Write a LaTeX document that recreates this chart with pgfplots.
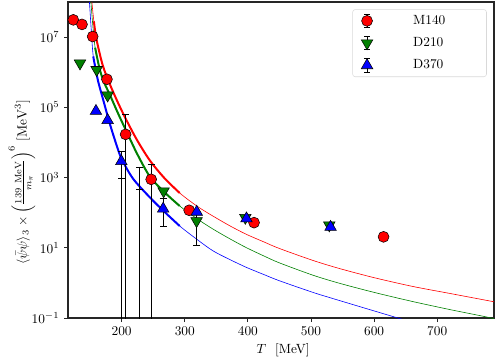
\documentclass[border=0pt]{standalone}
\usepackage{pgfplots}
\pgfplotsset{compat=1.18}
\usepackage{pgfplotstable}
\usetikzlibrary{calc}
\definecolor{mred}{RGB}{255,0,0}
\definecolor{mgreen}{RGB}{0,128,0}
\definecolor{mblue}{RGB}{0,0,255}

% data points: T, value, error plus, error minus
\pgfplotstableread{
T     y       ep      em
123.4 3.1e7   0       0
137.2 2.3e7   0       0
154.1 1.04e7  0       0
176.7 6.3e5   0       0
206.3 1.7e4   4.5e4   16999.999
246.8 890     1450    889.999
307   117     0       0
409.8 52      0       0
615   20.5    0       0
}\mred
\pgfplotstableread{
T     y       ep      em
134   1.8e6   0       0
160.4 1.17e6  0       0
177.8 2.2e5   0       0
266.5 410     0       0
318.7 58      47      46.3
396   72      0       0
529   44      0       0
}\dgreen
\pgfplotstableread{
T     y       ep      em
159.3 7.8e4   0       0
177.8 4.3e4   0       0
199.5 2900    2500    1970
265.8 129     122     89
319   105     0       0
397.8 68      0       0
531   39      0       0
}\dblue
% error bars whose markers are not shown: top of bar, length down
\pgfplotstableread{
T     y       em
228.5 2000    1999.999
199.5 930     929.999
}\dextra
\pgfplotstableread{
T     y
228.5 460
}\dcaps

% fitted curves
\pgfplotstableread{
T     y
150   3.98e8
152.5 1.15e8
156   2.82e7
160   8.9e6
170   1.58e6
181.5 4.47e5
195   1.26e5
208   4.17e4
225   1.12e4
245   3.02e3
268   955
292   363
320   151
345   79.4
372   41.7
398   24.0
425   14.8
450   9.55
503   4.37
545   2.57
600   1.41
661   0.794
720   0.501
790   0.29
}\cred
\pgfplotstableread{
T     y
148   3.98e8
151   1.15e8
154   2.51e7
158   5.01e6
165   1.26e6
172   5.25e5
181.5 2.24e5
195   6.31e4
208   2.0e4
225   4.57e3
245   1.05e3
268   380
292   155
320   66.1
345   33.9
372   17.8
398   10
425   5.89
450   3.72
503   1.66
545   0.977
600   0.537
661   0.295
720   0.174
775   0.110
790   0.0955
}\cgreen
\pgfplotstableread{
T     y
146   3.98e8
148.7 1.15e8
151.5 2.0e7
155   2.82e6
162   6.31e5
171   1.58e5
181   3.55e4
192   8.32e3
200   3.39e3
218   933
245   269
268   105
292   41.7
320   17.0
345   8.13
372   4.57
398   2.75
425   1.74
450   1.15
503   0.537
530   0.380
580   0.204
630   0.110
660   0.0759
}\cblue

\begin{document}
\begin{tikzpicture}
\begin{axis}[
  scale only axis,
  width=319.5pt, height=237pt,
  ymode=log,
  xmin=115, xmax=790,
  ymin=0.1, ymax=1e8,
  xtick={200,300,400,500,600,700},
  ytick={1e-1,1e1,1e3,1e5,1e7},
  minor ytick={},
  xtick pos=lower, ytick pos=left,
  tick align=outside,
  major tick length=3pt,
  tick style={black!85, line width=0.6pt},
  axis line style={black!85, line width=0.8pt},
  xlabel={$T$\ \ [MeV]},
  ylabel={$\langle\bar\psi\psi\rangle_3\times\Big(\frac{139\ \mathrm{MeV}}{m_\pi}\Big)^6\ [\mathrm{MeV}^3]$},
  xlabel style={at={(axis description cs:0.505,-0.101)}, anchor=center},
  ylabel style={at={(axis description cs:-0.108,0.43)}, anchor=center},
  legend style={at={(0.983,0.977)}, anchor=north east, draw=black!15,
    rounded corners=2pt, inner xsep=6.5pt, inner ysep=2pt, row sep=3.7pt,
    font=\normalsize,
    /tikz/every odd column/.append style={column sep=28.25pt},
    nodes={text width=46.5pt, text height=7pt, text depth=2pt}},
  legend cell align=left,
  legend image code/.code={
    \draw[black, line width=0.5pt, solid] (0.3cm,-5pt) -- (0.3cm,5pt)
      (0.3cm-2.2pt,5pt) -- (0.3cm+2.2pt,5pt)
      (0.3cm-2.2pt,-5pt) -- (0.3cm+2.2pt,-5pt);
    \draw[mark repeat=2,mark phase=2] plot coordinates {(0cm,0cm) (0.3cm,0cm) (0.6cm,0cm)};
  },
  error bars/error bar style={draw=black, line width=0.6pt, solid},
  error bars/error mark options={rotate=90, mark size=2.6pt, draw=black, line width=0.6pt},
]
% curves: thin over full range, thick in the fit window
\addplot[mred, line width=0.45pt, smooth, tension=0.5, forget plot] table[x=T,y=y] {\cred};
\addplot[mgreen, line width=0.45pt, smooth, tension=0.5, forget plot] table[x=T,y=y] {\cgreen};
\addplot[mblue, line width=0.45pt, smooth, tension=0.5, forget plot] table[x=T,y=y] {\cblue};
\addplot[mred, line width=1.5pt, smooth, tension=0.5, forget plot, restrict x to domain=156:300] table[x=T,y=y] {\cred};
\addplot[mgreen, line width=1.5pt, smooth, tension=0.5, forget plot, restrict x to domain=157:300] table[x=T,y=y] {\cgreen};
\addplot[mblue, line width=1.5pt, smooth, tension=0.5, forget plot, restrict x to domain=154:300] table[x=T,y=y] {\cblue};
% error bars without markers: caps drawn as "-" marks
\addplot[only marks, black, mark=-, mark size=2.6pt, mark options={line width=0.6pt}, forget plot,
  error bars/.cd, y dir=minus, y explicit, error mark=none]
  table[x=T,y=y,y error minus=em] {\dextra};
\addplot[only marks, black, mark=-, mark size=2.6pt, mark options={line width=0.6pt}, forget plot]
  table[x=T,y=y] {\dcaps};
% data
\addplot[only marks, mark=*, mark size=4.1pt,
  mark options={fill=mred, draw=black, line width=0.4pt},
  error bars/.cd, y dir=both, y explicit]
  table[x=T,y=y,y error plus=ep,y error minus=em] {\mred};
\addlegendentry{M140}
\addplot[only marks, mark=triangle*, mark size=5pt,
  mark options={rotate=180, fill=mgreen, draw=black, line width=0.4pt},
  error bars/.cd, y dir=both, y explicit]
  table[x=T,y=y,y error plus=ep,y error minus=em] {\dgreen};
\addlegendentry{D210}
\addplot[only marks, mark=triangle*, mark size=5pt,
  mark options={fill=mblue, draw=black, line width=0.4pt},
  error bars/.cd, y dir=both, y explicit]
  table[x=T,y=y,y error plus=ep,y error minus=em] {\dblue};
\addlegendentry{D370}
\end{axis}
\pgfresetboundingbox
\path ($(current axis.south west)+(-51pt,-33pt)$) rectangle ($(current axis.north east)+(3pt,1.5pt)$);
\end{tikzpicture}
\end{document}
